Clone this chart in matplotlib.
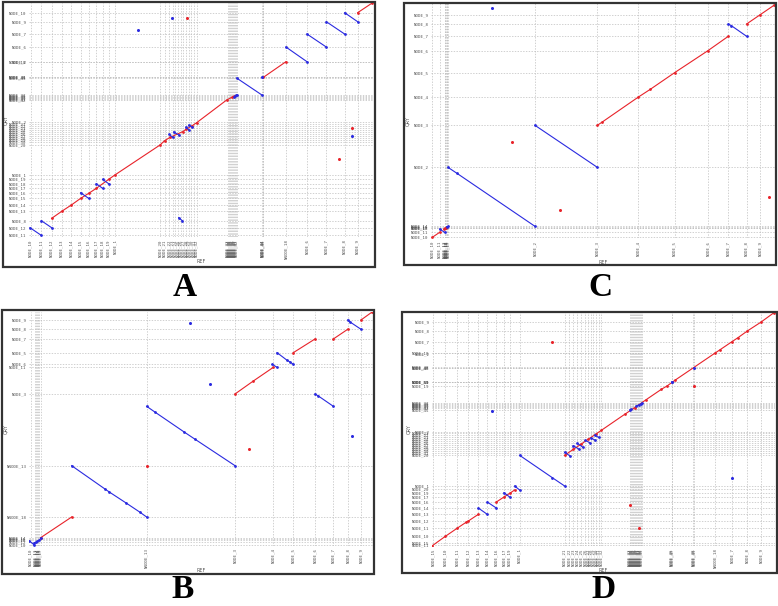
import matplotlib
matplotlib.use("Agg")
import matplotlib.pyplot as plt
from matplotlib.patches import Rectangle

# ---------------- panel A ----------------
A_xticks = [92, 124, 155, 185, 214, 242, 266, 289, 308, 326, 346,
            480, 494, 508, 518, 526, 534, 542, 550, 558, 566, 574, 582, 590,
            683, 686, 689, 692, 695, 698, 701, 704, 707, 710,
            786, 788, 790, 858, 921, 979, 1034, 1073]
A_xlabels = ["NODE_10", "NODE_11", "NODE_12", "NODE_13", "NODE_14", "NODE_15", "NODE_16",
             "NODE_17", "NODE_18", "NODE_19", "NODE_1",
             "NODE_20", "NODE_21", "NODE_22", "NODE_23", "NODE_24", "NODE_25", "NODE_26",
             "NODE_27", "NODE_28", "NODE_29", "NODE_30", "NODE_31", "NODE_32",
             "NODE_33", "NODE_34", "NODE_35", "NODE_36", "NODE_37", "NODE_38", "NODE_39",
             "NODE_40", "NODE_41", "NODE_42",
             "NODE_43", "NODE_44", "NODE_45", "NNODE_18", "NODE_6", "NODE_7", "NODE_8", "NODE_9"]
A_yticks = [712, 685, 648, 609, 564.5, 565.5, 517, 518, 519,
            465, 462, 459, 456, 453, 450,
            383, 377, 371, 365, 359, 353, 347, 341, 335, 329, 323, 315,
            226, 212, 199, 185, 170, 155, 135, 116, 88, 67, 44]
A_ylabels = ["NODE_10", "NODE_9", "NODE_7", "NODE_6", "NODE_2", "NODE_18", "NODE_43", "NODE_44", "NODE_45",
             "NODE_33", "NODE_35", "NODE_37", "NODE_39", "NODE_41", "NODE_42",
             "NODE_2", "NODE_21", "NODE_22", "NODE_23", "NODE_24", "NODE_25", "NODE_26",
             "NODE_27", "NODE_28", "NODE_29", "NODE_30", "NODE_20",
             "NODE_1", "NODE_19", "NODE_18", "NODE_17", "NODE_16", "NODE_15", "NODE_14",
             "NODE_13", "NODE_8", "NODE_12", "NODE_11"]
A_red = [
    ([155, 185, 214, 242, 266, 289, 326, 346, 480, 494, 510, 548, 558, 575, 590, 680, 695, 703],
     [95, 116, 135, 155, 170, 185, 212, 226, 315, 328, 338, 355, 362, 372, 382, 450, 458, 461]),
    ([790, 858], [518, 565]),
    ([1073, 1115], [712, 740]),
]
A_blue = [
    ([90, 124], [67, 44]), ([124, 155], [88, 67]),
    ([242, 266], [172, 155]), ([289, 308], [199, 185]), ([308, 326], [212, 199]),
    ([508, 518], [347, 338]), ([521, 537], [354, 345]), ([558, 566], [368, 361]),
    ([566, 575], [374, 370]), ([536, 547], [97, 88]),
    ([703, 706, 709, 711], [460, 462, 464, 465]),
    ([710, 786], [516, 465]), ([858, 921], [609, 565]), ([921, 979], [648, 609]),
    ([979, 1034], [685, 648]), ([1034, 1073], [712, 685]),
]
A_red_pts = ([560, 1057, 1017], [697, 367, 272])
A_blue_pts = ([413, 517, 1057, 786], [660, 697, 342, 518])

# ---------------- panel C ----------------
C_xticks = [133, 155, 170, 172, 174, 176, 178, 180, 441, 628, 750, 860, 960, 1021, 1076, 1117]
C_xlabels = ["NODE_10", "NODE_11", "NODE_12", "NODE_13", "NODE_14", "NODE_15", "NODE_16", "NODE_17",
             "NODE_2", "NODE_3", "NODE_4", "NODE_5", "NODE_6", "NODE_7", "NODE_8", "NODE_9"]
C_yticks = [706, 678, 641, 598, 532, 458, 374, 248, 71, 69, 67, 65, 53, 38]
C_ylabels = ["NODE_9", "NODE_8", "NODE_7", "NODE_6", "NODE_5", "NODE_4", "NODE_3", "NODE_2",
             "NODE_14", "NODE_15", "NODE_16", "NODE_17", "NODE_11", "NODE_10"]
C_red = [
    ([133, 155], [38, 53]),
    ([168, 171, 174, 177], [63, 66, 67, 69]),
    ([628, 643, 750, 787, 860, 960, 1021], [374, 384, 458, 482, 532, 598, 641]),
    ([1076, 1117, 1158], [678, 706, 734]),
]
C_blue = [
    ([155, 170], [63, 53]),
    ([176, 180], [70, 71]),
    ([180, 207, 441], [248, 230, 71]),
    ([441, 628], [374, 248]),
    ([1021, 1030, 1076], [678, 673, 641]),
]
C_red_pts = ([371, 516, 1143], [324, 119, 159])
C_blue_pts = ([311], [725])

# ---------------- panel B ----------------
B_xticks = [92, 105, 108, 111, 114, 118, 122, 440, 705, 820, 880, 945, 1000, 1043, 1083]
B_xlabels = ["NODE_10", "NODE_11", "NODE_12", "NODE_14", "NODE_15", "NODE_16", "NODE_17",
             "NNODE_13", "NODE_3", "NODE_4", "NODE_5", "NODE_6", "NODE_7", "NODE_8", "NODE_9"]
B_yticks = [690, 662, 633, 590, 557, 548, 468, 253, 99, 37, 34, 31, 24, 15]
B_ylabels = ["NODE_9", "NODE_8", "NODE_7", "NODE_5", "NODE_6", "NODE_11", "NODE_3",
             "NNODE_13", "NNODE_18", "NODE_14", "NODE_15", "NODE_16", "NODE_12", "NODE_10"]
B_red = [
    ([122, 215], [37, 99]),
    ([705, 760, 820], [468, 507, 548]),
    ([880, 945], [592, 633]),
    ([1000, 1043], [633, 662]),
    ([1083, 1115], [690, 713]),
]
B_blue = [
    ([88, 103], [28, 15]),
    ([103, 108, 112, 118, 122], [22, 24, 26, 30, 35]),
    ([215, 315, 328, 377, 419, 440], [253, 183, 174, 142, 114, 99]),
    ([440, 466, 551, 584, 705], [431, 413, 355, 333, 253]),
    ([817, 831], [557, 548]),
    ([831, 860, 870, 880], [592, 570, 564, 557]),
    ([945, 955, 1000], [468, 462, 431]),
    ([1043, 1050, 1083], [690, 684, 662]),
]
B_red_pts = ([440, 748], [253, 302])
B_blue_pts = ([571, 630, 1056], [682, 499, 343])

# ---------------- panel D ----------------
D_xticks = [135, 172, 207, 241, 271, 298, 325, 348, 365, 395,
            530, 543, 556, 568, 580, 592, 600, 608, 616, 624, 632, 640,
            725, 728, 731, 734, 737, 740, 743, 746, 749, 752, 755, 758, 761,
            851, 853, 916, 918, 980, 1032, 1078, 1118]
D_xlabels = ["NODE_15", "NODE_10", "NODE_11", "NODE_12", "NODE_13", "NODE_14", "NODE_16",
             "NODE_17", "NODE_19", "NODE_1",
             "NODE_21", "NODE_22", "NODE_23", "NODE_24", "NODE_25", "NODE_26", "NODE_27",
             "NODE_28", "NODE_29", "NODE_30", "NODE_31", "NODE_32",
             "NODE_33", "NODE_34", "NODE_35", "NODE_36", "NODE_37", "NODE_38", "NODE_39",
             "NODE_40", "NODE_41", "NODE_42", "NODE_43", "NODE_44", "NODE_45",
             "NODE_46", "NODE_47", "NODE_48", "NODE_49", "NNODE_18", "NODE_7", "NODE_8", "NODE_9"]
D_yticks = [683, 657, 625, 589.5, 590.5, 546, 547, 548, 503, 504, 505, 492,
            440, 437, 434, 431, 428, 425, 420,
            355, 350, 344, 338, 332, 326, 320, 314, 308, 302, 296, 290, 284,
            192, 182, 170, 159, 144, 126, 107, 87, 65, 41, 20, 15]
D_ylabels = ["NODE_9", "NODE_8", "NODE_7", "NODE_2", "NODE_18", "NODE_46", "NODE_47", "NODE_48",
             "NODE_49", "NODE_50", "NODE_51", "NODE_19",
             "NODE_33", "NODE_35", "NODE_37", "NODE_39", "NODE_41", "NODE_43", "NODE_45",
             "NODE_2", "NODE_21", "NODE_22", "NODE_23", "NODE_24", "NODE_25", "NODE_26",
             "NODE_27", "NODE_28", "NODE_29", "NODE_30", "NODE_31", "NODE_20",
             "NODE_1", "NODE_20", "NODE_19", "NODE_17", "NODE_16", "NODE_14", "NODE_13",
             "NODE_12", "NODE_11", "NODE_10", "NODE_15", "NODE_11"]
D_red = [
    ([133, 172, 207, 234, 241, 271], [13, 41, 65, 83, 87, 107]),
    ([325, 348, 365, 380], [144, 159, 170, 180]),
    ([530, 556, 580, 600, 624, 640, 710, 740, 773, 820, 837, 862, 980, 995, 1032, 1050, 1078, 1118, 1158],
     [284, 302, 318, 332, 348, 359, 407, 427, 450, 482, 492, 510, 590, 600, 625, 637, 657, 683, 712]),
]
D_blue = [
    ([271, 298], [126, 107]), ([298, 325], [144, 126]), ([348, 365], [172, 159]),
    ([380, 395], [192, 180]),
    ([395, 493, 530], [284, 217, 192]),
    ([530, 545], [293, 283]), ([556, 572], [313, 303]), ([568, 585], [320, 308]),
    ([592, 605], [329, 322]), ([610, 620], [336, 330]), ([620, 632], [344, 338]),
    ([725, 728], [420, 422]), ([745, 752, 758, 761], [432, 435, 438, 440]),
    ([851, 853], [504, 505]),
]
D_red_pts = ([492, 725, 752, 917], [625, 136, 65, 492])
D_blue_pts = ([311, 1032, 917], [417, 217, 547])

W, H = 778, 606
fig = plt.figure(figsize=(W / 100, H / 100), dpi=100)


def px_rect(x0, y0, x1, y1):
    return [x0 / W, 1 - y1 / H, (x1 - x0) / W, (y1 - y0) / H]


def draw_panel(rect, xlim, ylim, xt, xl, yt, yl, reds, blues, rpts, bpts):
    ax = fig.add_axes(rect)
    ax.set_xlim(*xlim)
    ax.set_ylim(*ylim)
    ax.set_xticks(xt)
    ax.set_xticklabels(xl, rotation=90, fontsize=3, family="DejaVu Sans Mono", color="#555555")
    ax.set_yticks(yt)
    ax.set_yticklabels(yl, fontsize=3, family="DejaVu Sans Mono", color="#555555")
    ax.tick_params(length=0, pad=2)
    ax.grid(True, ls=(0, (2, 2)), lw=0.5, color="#bdbdbd")
    for s in ax.spines.values():
        s.set_visible(False)
    for xs, ys in reds:
        ax.plot(xs, ys, "-o", color="#e8232a", lw=0.8, ms=2, mew=0)
    for xs, ys in blues:
        ax.plot(xs, ys, "-o", color="#2a2ae0", lw=0.8, ms=2, mew=0)
    ax.plot(rpts[0], rpts[1], "o", color="#e8232a", ms=2.2, mew=0)
    ax.plot(bpts[0], bpts[1], "o", color="#2a2ae0", ms=2.2, mew=0)
    ax.set_xlabel("REF", fontsize=3.5, color="#555555")
    ax.set_ylabel("QRY", fontsize=3.5, color="#555555")
    ax.xaxis.set_label_coords(0.5, -0.095)
    ax.yaxis.set_label_coords(-0.062, 0.5)
    return ax


draw_panel(px_rect(29.3, 2.7, 373.3, 236.7), (88, 1120), (40, 742),
           A_xticks, A_xlabels, A_yticks, A_ylabels, A_red, A_blue, A_red_pts, A_blue_pts)
draw_panel(px_rect(431.3, 3.3, 775.3, 238), (130, 1162), (36, 740),
           C_xticks, C_xlabels, C_yticks, C_ylabels, C_red, C_blue, C_red_pts, C_blue_pts)
draw_panel(px_rect(29.3, 312.3, 372.7, 545.7), (88, 1118), (13, 713),
           B_xticks, B_xlabels, B_yticks, B_ylabels, B_red, B_blue, B_red_pts, B_blue_pts)
draw_panel(px_rect(432.3, 312.3, 774.7, 545.7), (133, 1160), (13, 713),
           D_xticks, D_xlabels, D_yticks, D_ylabels, D_red, D_blue, D_red_pts, D_blue_pts)

# frames round each panel
for x0, y0, x1, y1 in [(2.5, 1.5, 375, 266.5), (403.5, 2.5, 776, 264.5),
                       (2, 310, 373.5, 573.5), (401.5, 311.5, 776.5, 573)]:
    r = px_rect(x0, y0, x1, y1)
    fig.patches.append(Rectangle((r[0], r[1]), r[2], r[3], transform=fig.transFigure,
                                 fill=False, ec="#333333", lw=1.6))

for letter, x, y in [("A", 185, 287), ("C", 600, 287), ("B", 183, 589), ("D", 604, 590)]:
    fig.text(x / W, 1 - y / H, letter, ha="center", va="center", fontsize=24,
             fontweight="bold", family="Liberation Serif")

fig.savefig("out.png", dpi=100)
